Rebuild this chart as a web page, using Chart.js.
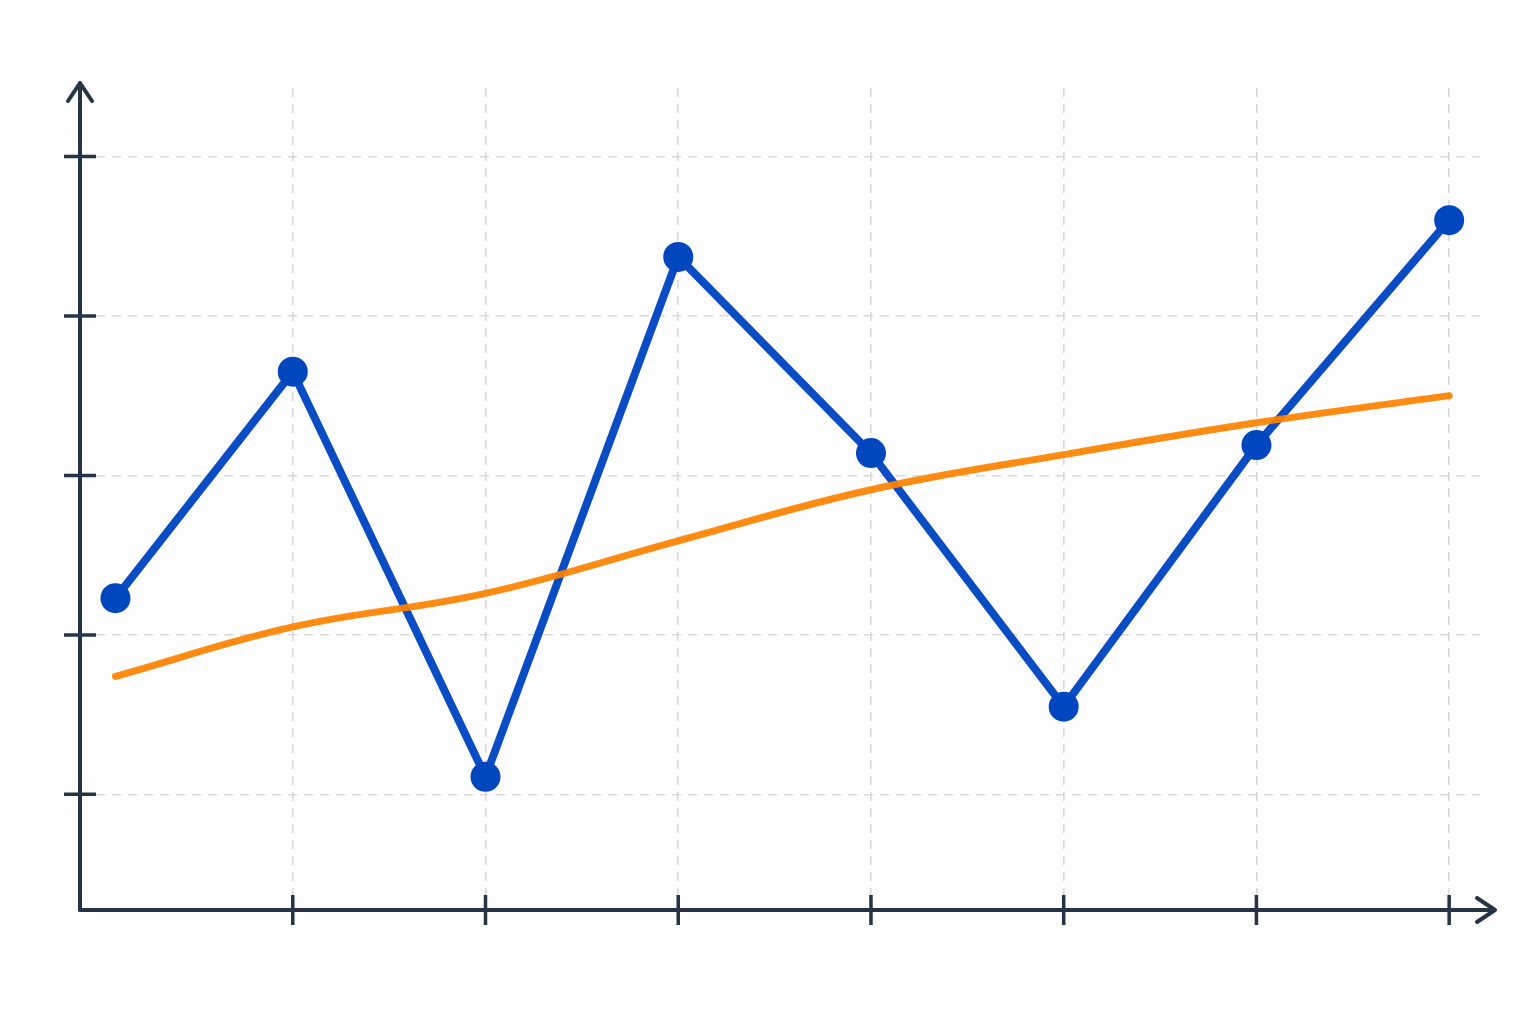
<!DOCTYPE html>
<html>
<head>
<meta charset="utf-8">
<script src="https://cdn.jsdelivr.net/npm/chart.js@4/dist/chart.umd.min.js"></script>
<style>
  html, body { margin: 0; padding: 0; background: #fdfdfd; }
  #wrap { width: 1536px; height: 1024px; }
</style>
</head>
<body>
<div id="wrap"><canvas id="lineChart"></canvas></div>
<script>
// values
const xPositions = [0.08, 1, 2, 3, 4, 5, 6, 7];
const measured = [2.23, 3.65, 1.11, 4.37, 3.14, 1.55, 3.19, 4.60];
const trend = [1.74, 2.05, 2.26, 2.59, 2.91, 3.13, 3.33, 3.50];
const xTicks = [1, 2, 3, 4, 5, 6, 7];
const yTicks = [1, 2, 3, 4, 5];

const axisColor = '#263445';

function toPoints(values) {
    return values.map((v, i) => ({ x: xPositions[i], y: v }));
}

// draws arrowed axes and tick marks crossing them
const arrowAxes = {
    id: 'arrowAxes',
    afterDatasetsDraw(chart) {
        const ctx = chart.ctx;
        const area = chart.chartArea;
        const xs = chart.scales.x;
        const ys = chart.scales.y;
        const ox = area.left;
        const oy = area.bottom;
        ctx.save();
        ctx.strokeStyle = axisColor;
        ctx.lineWidth = 4;
        ctx.lineCap = 'round';
        ctx.lineJoin = 'round';

        ctx.beginPath();
        ctx.moveTo(ox, oy);
        ctx.lineTo(ox, area.top - 5);
        ctx.moveTo(ox - 12, area.top + 13);
        ctx.lineTo(ox, area.top - 5);
        ctx.lineTo(ox + 12, area.top + 13);
        ctx.stroke();

        ctx.beginPath();
        ctx.moveTo(ox, oy);
        ctx.lineTo(area.right + 15, oy);
        ctx.moveTo(area.right - 3, oy - 12);
        ctx.lineTo(area.right + 15, oy);
        ctx.lineTo(area.right - 3, oy + 12);
        ctx.stroke();

        ctx.lineCap = 'butt';
        ctx.lineWidth = 3.5;
        ctx.beginPath();
        yTicks.forEach(t => {
            const py = ys.getPixelForValue(t);
            ctx.moveTo(ox - 16, py);
            ctx.lineTo(ox + 16, py);
        });
        xTicks.forEach(t => {
            const px = xs.getPixelForValue(t);
            ctx.moveTo(px, oy - 15);
            ctx.lineTo(px, oy + 15);
        });
        ctx.stroke();
        ctx.restore();
    }
};

const bgPlugin = {
    id: 'bg',
    beforeDraw(chart) {
        const ctx = chart.ctx;
        ctx.save();
        ctx.fillStyle = '#fdfdfd';
        ctx.fillRect(0, 0, chart.width, chart.height);
        ctx.restore();
    }
};

new Chart(document.getElementById('lineChart').getContext('2d'), {
    type: 'line',
    data: {
        datasets: [
            {
                data: toPoints(trend),
                borderColor: 'rgba(255, 130, 0, 0.93)',
                borderWidth: 7,
                pointRadius: 0,
                tension: 0.4,
                borderCapStyle: 'round',
                fill: false,
                order: 0
            },
            {
                data: toPoints(measured),
                borderColor: '#0a4cc4',
                backgroundColor: '#0047bf',
                borderWidth: 8,
                pointRadius: 15,
                pointBorderWidth: 0,
                pointBackgroundColor: '#0047bf',
                tension: 0,
                fill: false,
                order: 1
            }
        ]
    },
    options: {
        responsive: true,
        maintainAspectRatio: false,
        animation: false,
        layout: {
            padding: { left: 80, right: 56, top: 88, bottom: 114 }
        },
        plugins: {
            legend: { display: false },
            tooltip: { enabled: false }
        },
        scales: {
            x: {
                type: 'linear',
                min: -0.104,
                max: 7.16,
                afterBuildTicks: scale => {
                    scale.ticks = xTicks.map(v => ({ value: v }));
                },
                ticks: { display: false },
                border: { display: false, dash: [9, 7] },
                grid: {
                    color: '#d9d9d9',
                    lineWidth: 1.6,
                    drawTicks: false
                }
            },
            y: {
                type: 'linear',
                min: 0.275,
                max: 5.429,
                afterBuildTicks: scale => {
                    scale.ticks = yTicks.map(v => ({ value: v }));
                },
                ticks: { display: false },
                border: { display: false, dash: [9, 7] },
                grid: {
                    color: '#d9d9d9',
                    lineWidth: 1.6,
                    drawTicks: false
                }
            }
        }
    },
    plugins: [bgPlugin, arrowAxes]
});
</script>
</body>
</html>
